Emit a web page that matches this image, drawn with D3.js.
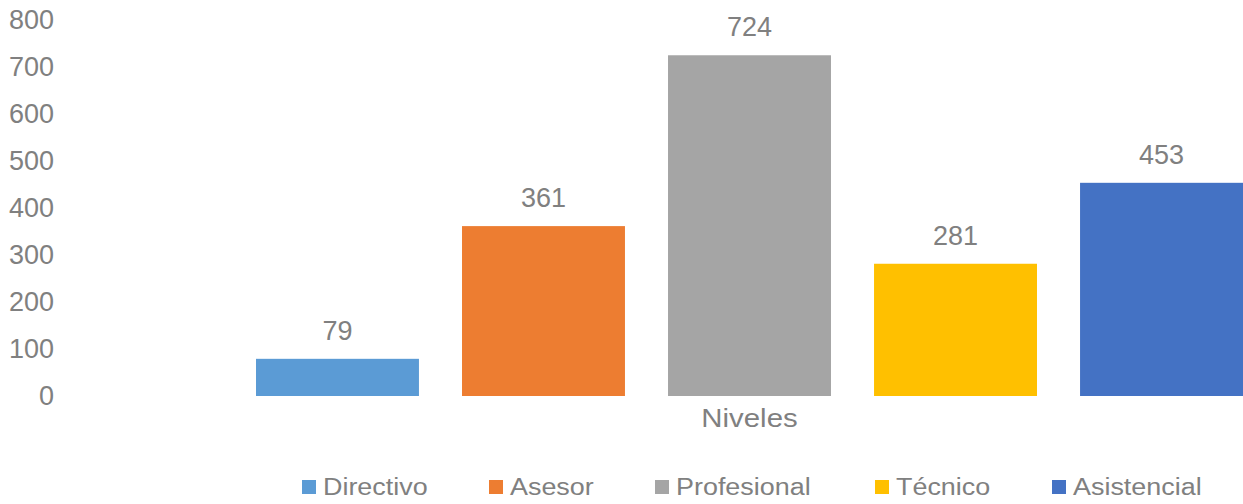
<!DOCTYPE html>
<html>
<head>
<meta charset="utf-8">
<script src="https://cdn.jsdelivr.net/npm/d3@7/dist/d3.min.js"></script>
</head>
<body style="overflow: hidden; padding: 0; margin: 0; background: #fff;">
<script>

    const width = 1243;
    const height = 504;

    // data
    const category = "Niveles";
    const series = ["Directivo", "Asesor", "Profesional", "Técnico", "Asistencial"];
    const values = [79, 361, 724, 281, 453];
    const colors = ["#5b9bd5", "#ed7d31", "#a5a5a5", "#ffc000", "#4472c4"];
    const yTicks = [0, 100, 200, 300, 400, 500, 600, 700, 800];

    const textColor = "#808080";
    const font = "'Liberation Sans', Arial, sans-serif";

    const svg = d3.select("body").append("svg")
      .attr("width", width)
      .attr("height", height)
      .style("font-family", font);

    const y = d3.scaleLinear().domain([0, 800]).range([396, 19.5]);

    const x = d3.scaleBand()
      .domain(series)
      .range([256, 1243])
      .paddingInner(0.209)
      .paddingOuter(0);

    // stretch text a bit wider, like the reference
    function widen(sel, k) {
      sel.each(function() {
        const w = this.getComputedTextLength();
        d3.select(this)
          .attr("textLength", w * k)
          .attr("lengthAdjust", "spacingAndGlyphs");
      });
    }

    // y axis, labels only
    const yAxis = svg.append("g")
      .attr("transform", "translate(54,0)")
      .call(d3.axisLeft(y).tickValues(yTicks).tickSize(0).tickPadding(0));
    yAxis.select(".domain").remove();
    yAxis.selectAll("text")
      .attr("fill", textColor)
      .style("font-family", font)
      .style("font-size", "27px");

    // bars
    svg.selectAll("rect.bar")
      .data(series)
      .enter().append("rect")
      .attr("class", "bar")
      .attr("x", d => x(d))
      .attr("width", x.bandwidth())
      .attr("y", (d, i) => y(values[i]))
      .attr("height", (d, i) => y(0) - y(values[i]))
      .attr("fill", (d, i) => colors[i]);

    // value labels
    svg.selectAll("text.val")
      .data(series)
      .enter().append("text")
      .attr("class", "val")
      .attr("x", d => x(d) + x.bandwidth() / 2)
      .attr("y", (d, i) => y(values[i]) - 19)
      .attr("text-anchor", "middle")
      .attr("fill", textColor)
      .style("font-size", "27px")
      .text((d, i) => values[i]);

    // category label
    svg.append("text")
      .attr("x", x("Profesional") + x.bandwidth() / 2)
      .attr("y", 427)
      .attr("text-anchor", "middle")
      .attr("fill", textColor)
      .style("font-size", "26px")
      .text(category)
      .call(widen, 1.13);

    // legend
    const legendX = [302, 489, 655, 875, 1052];
    const legend = svg.selectAll("g.leg")
      .data(series)
      .enter().append("g")
      .attr("class", "leg")
      .attr("transform", (d, i) => `translate(${legendX[i]},0)`);

    legend.append("rect")
      .attr("x", 0)
      .attr("y", 480)
      .attr("width", 14)
      .attr("height", 14)
      .attr("fill", (d, i) => colors[i]);

    legend.append("text")
      .attr("x", 21)
      .attr("y", 495)
      .attr("fill", textColor)
      .style("font-size", "23px")
      .text(d => d)
      .call(widen, 1.17);

</script>
</body>
</html>
